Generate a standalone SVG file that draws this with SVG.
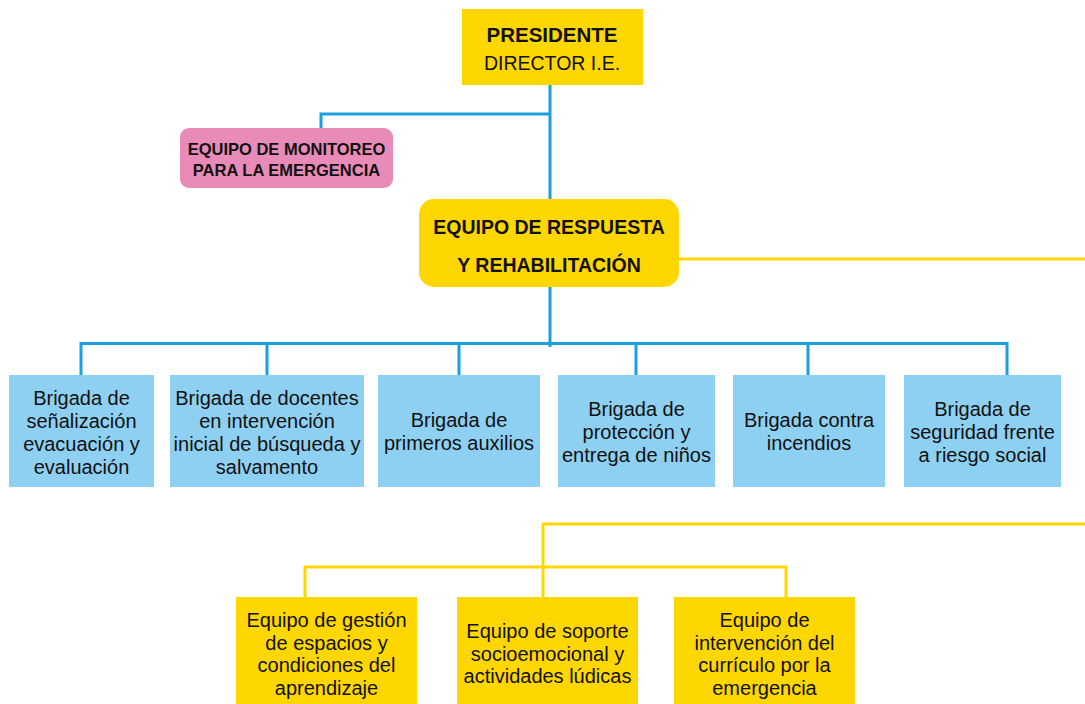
<svg xmlns="http://www.w3.org/2000/svg" width="1085" height="704" viewBox="0 0 1085 704">
<style>
.t{font-family:"Liberation Sans",Arial,sans-serif;fill:#111;text-anchor:middle}
.b{font-weight:bold}
.n{font-size:20px}
.blue{fill:#8ED0F1}
.yel{fill:#FFD700}
.cb{fill:none;stroke:#1A9FDF;stroke-width:3}
.cy{fill:none;stroke:#FFD700;stroke-width:3}
</style>
<rect width="1085" height="704" fill="#fff"/>
<g id="connectors">
<path class="cb" d="M550 85V199M550 114H321V128M550 287V347M81 375V343.5H1007V375M267 343.5V375M459 343.5V375M636 343.5V375M808 343.5V375"/>
<path class="cy" d="M679 259H1085M1085 524H543V597M305 597V567H786V597"/>
</g>
<g id="presidente">
<rect x="462" y="9" width="181" height="76" class="yel"/>
<text class="t b" x="552" y="42" font-size="20.5">PRESIDENTE</text>
<text class="t" x="552" y="70" font-size="19.5">DIRECTOR I.E.</text>
</g>
<g id="monitoreo">
<rect x="180" y="128" width="213" height="60" rx="9" fill="#E98BB9"/>
<text class="t b" x="286.5" y="155" font-size="16.5">EQUIPO DE MONITOREO</text>
<text class="t b" x="286.5" y="176" font-size="16.5">PARA LA EMERGENCIA</text>
</g>
<g id="respuesta">
<rect x="419" y="199" width="260" height="88" rx="15" class="yel"/>
<text class="t b" x="549" y="234" font-size="19.5">EQUIPO DE RESPUESTA</text>
<text class="t b" x="549" y="272" font-size="19.5">Y REHABILITACIÓN</text>
</g>
<g id="b1">
<rect x="9" y="375" width="145" height="112" class="blue"/>
<text class="t n" x="81.5"><tspan x="81.5" y="405">Brigada de</tspan><tspan x="81.5" y="428">señalización</tspan><tspan x="81.5" y="451">evacuación y</tspan><tspan x="81.5" y="474">evaluación</tspan></text>
</g>
<g id="b2">
<rect x="170" y="375" width="194" height="112" class="blue"/>
<text class="t n" x="267"><tspan x="267" y="405">Brigada de docentes</tspan><tspan x="267" y="428">en intervención</tspan><tspan x="267" y="451">inicial de búsqueda y</tspan><tspan x="267" y="474">salvamento</tspan></text>
</g>
<g id="b3">
<rect x="378" y="375" width="162" height="112" class="blue"/>
<text class="t n" x="459"><tspan x="459" y="427">Brigada de</tspan><tspan x="459" y="450">primeros auxilios</tspan></text>
</g>
<g id="b4">
<rect x="558" y="375" width="157" height="112" class="blue"/>
<text class="t n" x="636.5"><tspan x="636.5" y="416">Brigada de</tspan><tspan x="636.5" y="439">protección y</tspan><tspan x="636.5" y="462">entrega de niños</tspan></text>
</g>
<g id="b5">
<rect x="733" y="375" width="152" height="112" class="blue"/>
<text class="t n" x="809"><tspan x="809" y="427">Brigada contra</tspan><tspan x="809" y="450">incendios</tspan></text>
</g>
<g id="b6">
<rect x="904" y="375" width="157" height="112" class="blue"/>
<text class="t n" x="982.5"><tspan x="982.5" y="416">Brigada de</tspan><tspan x="982.5" y="439">seguridad frente</tspan><tspan x="982.5" y="462">a riesgo social</tspan></text>
</g>
<g id="y1">
<rect x="236" y="597" width="181" height="107" class="yel"/>
<text class="t n" x="326.5"><tspan x="326.5" y="627">Equipo de gestión</tspan><tspan x="326.5" y="649.5">de espacios y</tspan><tspan x="326.5" y="672">condiciones del</tspan><tspan x="326.5" y="694.5">aprendizaje</tspan></text>
</g>
<g id="y2">
<rect x="457" y="597" width="181" height="107" class="yel"/>
<text class="t n" x="547.5"><tspan x="547.5" y="638">Equipo de soporte</tspan><tspan x="547.5" y="660.5">socioemocional y</tspan><tspan x="547.5" y="683">actividades lúdicas</tspan></text>
</g>
<g id="y3">
<rect x="674" y="597" width="181" height="107" class="yel"/>
<text class="t n" x="764.5"><tspan x="764.5" y="627">Equipo de</tspan><tspan x="764.5" y="649.5">intervención del</tspan><tspan x="764.5" y="672">currículo por la</tspan><tspan x="764.5" y="694.5">emergencia</tspan></text>
</g>
</svg>
